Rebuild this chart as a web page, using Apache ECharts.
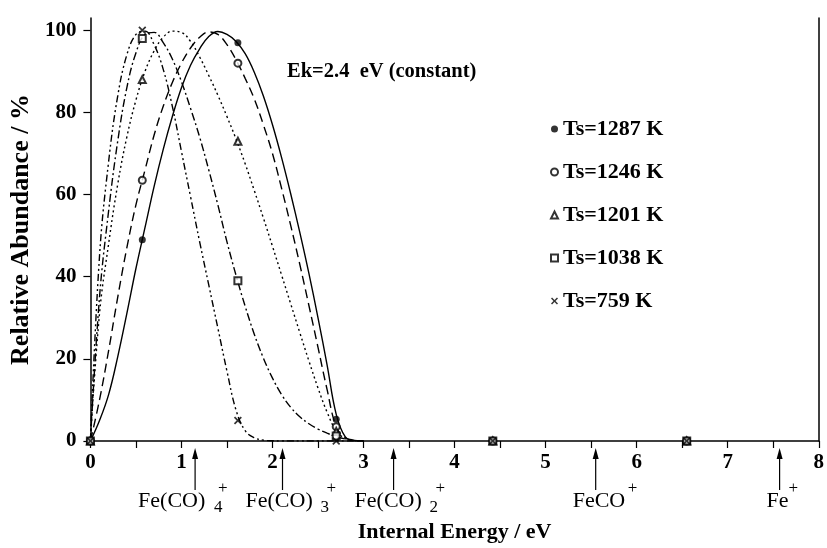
<!DOCTYPE html>
<html>
<head>
<meta charset="utf-8">
<script src="https://cdn.jsdelivr.net/npm/echarts@6/dist/echarts.min.js"></script>
<style>html,body{margin:0;padding:0;background:#fff;}#c{width:827px;height:548px;}</style>
</head>
<body>
<div id="c"></div>
<script>
// ---------- data ----------
const energyGrid = [0,0.1,0.2,0.3,0.4,0.5,0.6,0.7,0.8,0.9,1.0,1.1,1.2,1.3,1.4,1.5,1.6,1.7,1.8,1.9,2.0,2.1,2.2,2.3,2.4,2.5,2.6,2.7,2.8,2.9,3.0];
const fit1287 = [0,5,11.3,20.5,31,42,52,62,71,79,86,91.5,95.5,98.5,99.7,99,97.3,94.3,89.8,84,77,69,60.2,50.8,40.8,30,18.5,6.5,1.0,0.1,0];
const fit1246 = [0,10,22,35,47,57.5,66,74.5,81.5,87.3,92,95.7,98.3,99.6,99,96.5,92.8,88.3,83.3,77,70,61.5,52.5,43,33,22.8,12.5,3.5,0.8,0.2,0];
const fit1201 = [0,31,48,62.5,74,83,90,95,98.3,99.8,99.5,97.3,93.5,89,84.2,79,73.5,67.5,61,54.3,47.4,40.4,33.4,26.4,19.5,12.9,7,2.5,0.6,0.1,0];
const fit1038 = [0,35,56,73,86,94.5,99,99.5,97,93,87.5,81,74,66,57.5,48.5,40.3,32.8,26,20.2,15.3,11.3,8.2,5.9,4.2,2.9,1.9,1.1,0.5,0.15,0];
const fit759  = [0,45,68,84,94,99,99.8,96.5,90.5,81.5,70.5,59.5,48.5,38,27.5,17,7.5,2.5,0.8,0.2,0.05,0,0,0,0,0,0,0,0,0,0];

const pointEnergies = [0, 0.57, 1.62, 2.7, 4.42, 6.55];
const pts1287 = [0, 49, 97, 5.3, 0, 0];
const pts1246 = [0, 63.5, 92, 3.5, 0, 0];
const pts1201 = [0, 88, 73, 2.3, 0, 0];
const pts1038 = [0, 98, 39, 1.2, 0, 0];
const pts759  = [0, 100, 5, 0, 0, 0];

const seriesNames = ['Ts=1287 K', 'Ts=1246 K', 'Ts=1201 K', 'Ts=1038 K', 'Ts=759 K'];
const xTickValues = [0,1,2,3,4,5,6,7,8];
const yTickValues = [0,20,40,60,80,100];

const ionThresholds = [1.15, 2.11, 3.33, 5.55, 7.57];
const ionMain = ['Fe(CO)', 'Fe(CO)', 'Fe(CO)', 'FeCO', 'Fe'];
const ionSub  = ['4', '3', '2', '', ''];
const ionSup  = ['+', '+', '+', '+', '+'];
const annotationText = 'Ek=2.4  eV (constant)';

// ---------- styles ----------
const FONT = 'Liberation Serif';
const crossPath = 'path://M1.5,0 L5,3.5 L8.5,0 L10,1.5 L6.5,5 L10,8.5 L8.5,10 L5,6.5 L1.5,10 L0,8.5 L3.5,5 L0,1.5 Z';
const markerStyles = [
  {symbol: 'circle', size: 7, itemStyle: {color: '#000'}},
  {symbol: 'emptyCircle', size: 7, itemStyle: {color: '#000', borderColor: '#000', borderWidth: 1}},
  {symbol: 'emptyTriangle', size: 7, itemStyle: {color: '#000', borderColor: '#000', borderWidth: 1}},
  {symbol: 'emptyRect', size: 7, itemStyle: {color: '#000', borderColor: '#000', borderWidth: 1}},
  {symbol: crossPath, size: 8, itemStyle: {color: '#000'}}
];
const lineDashes = ['solid', [9, 5], [2, 3], [8, 3, 2, 3], [7, 3, 2, 3, 2, 3]];

const fits = [fit1287, fit1246, fit1201, fit1038, fit759];
const pts = [pts1287, pts1246, pts1201, pts1038, pts759];

const series = [];
fits.forEach((f, i) => {
  series.push({
    name: seriesNames[i] + ' fit',
    type: 'line',
    data: energyGrid.map((x, k) => [x, f[k]]),
    showSymbol: false,
    symbol: 'none',
    smooth: 0.4,
    lineStyle: {color: '#000', width: 1.4, type: lineDashes[i]},
    silent: true,
    z: 3
  });
});
pts.forEach((p, i) => {
  series.push({
    name: seriesNames[i],
    type: 'scatter',
    data: pointEnergies.map((x, k) => [x, p[k]]),
    symbol: markerStyles[i].symbol,
    symbolSize: markerStyles[i].size,
    itemStyle: markerStyles[i].itemStyle,
    z: 5
  });
});

const chart = echarts.init(document.getElementById('c'), null, {renderer: 'canvas'});
const axisText = {fontFamily: FONT, fontWeight: 'bold', fontSize: 21, color: '#000'};

chart.setOption({
  animation: false,
  backgroundColor: '#fff',
  grid: {left: 87, right: 4, top: 18, bottom: 101, containLabel: false},
  xAxis: {
    type: 'value', min: 0, max: 8, interval: 0.5,
    axisLine: {lineStyle: {color: '#000', width: 1.5}},
    axisTick: {show: true, length: 7, lineStyle: {color: '#000', width: 1.2}},
    axisLabel: Object.assign({margin: 11, customValues: xTickValues, formatter: v => String(v)}, axisText),
    splitLine: {show: false},
    name: 'Internal Energy / eV', nameLocation: 'middle', nameGap: 80,
    nameTextStyle: {fontFamily: FONT, fontWeight: 'bold', fontSize: 22, color: '#000'}
  },
  yAxis: [{
    type: 'value', min: 0, max: 103,
    axisLine: {show: true, lineStyle: {color: '#000', width: 1.5}},
    axisTick: {show: true, length: 7, customValues: yTickValues, lineStyle: {color: '#000', width: 1.2}},
    axisLabel: Object.assign({margin: 14, customValues: yTickValues}, axisText),
    splitLine: {show: false},
    name: 'Relative Abundance / %', nameLocation: 'middle', nameGap: 50,
    nameTextStyle: {fontFamily: FONT, fontWeight: 'bold', fontSize: 26, color: '#000'}
  }, {
    type: 'value', min: 0, max: 103, position: 'right',
    axisLine: {show: true, lineStyle: {color: '#000', width: 1.5}},
    axisTick: {show: false}, axisLabel: {show: false}, splitLine: {show: false}
  }],
  legend: {
    orient: 'vertical', left: 545, top: 113,
    itemWidth: 7, itemHeight: 7, itemGap: 21,
    data: seriesNames.map((n, i) => ({name: n, icon: markerStyles[i].symbol})),
    textStyle: {fontFamily: FONT, fontWeight: 'bold', fontSize: 22, lineHeight: 22, color: '#000'},
    selectedMode: false
  },
  series: series
});

// ---------- annotations (placed through the axis scale) ----------
const labelLayout = [
  {dx: -57, sub: 76, sup: 80},
  {dx: -37, sub: 75, sup: 81},
  {dx: -39, sub: 75, sup: 81},
  {dx: -23, sub: 0, sup: 55},
  {dx: -13, sub: 0, sup: 22}
];
const y0 = chart.convertToPixel({yAxisIndex: 0}, 0);
const graphics = [];
ionThresholds.forEach((e, i) => {
  const px = chart.convertToPixel({xAxisIndex: 0}, e);
  const tip = y0 + 7, tail = y0 + 49;
  graphics.push({type: 'line', shape: {x1: px, y1: tip + 8, x2: px, y2: tail}, style: {stroke: '#000', lineWidth: 1.2}});
  graphics.push({type: 'polygon', shape: {points: [[px, tip], [px - 3, tip + 11], [px + 3, tip + 11]]}, style: {fill: '#000'}});
  const L = labelLayout[i];
  const left = px + L.dx;
  graphics.push({type: 'text', x: left, y: y0 + 60, style: {text: ionMain[i], font: '22px "' + FONT + '"', fill: '#000', textVerticalAlign: 'middle', textAlign: 'left'}});
  if (ionSub[i]) graphics.push({type: 'text', x: left + L.sub, y: y0 + 67, style: {text: ionSub[i], font: '17px "' + FONT + '"', fill: '#000', textVerticalAlign: 'middle'}});
  graphics.push({type: 'text', x: left + L.sup, y: y0 + 48, style: {text: ionSup[i], font: '17px "' + FONT + '"', fill: '#000', textVerticalAlign: 'middle'}});
});
graphics.push({type: 'text', x: 287, y: 72, style: {text: annotationText, font: 'bold 20.5px "' + FONT + '"', fill: '#000', textVerticalAlign: 'middle'}});
chart.setOption({graphic: graphics});
</script>
</body>
</html>
